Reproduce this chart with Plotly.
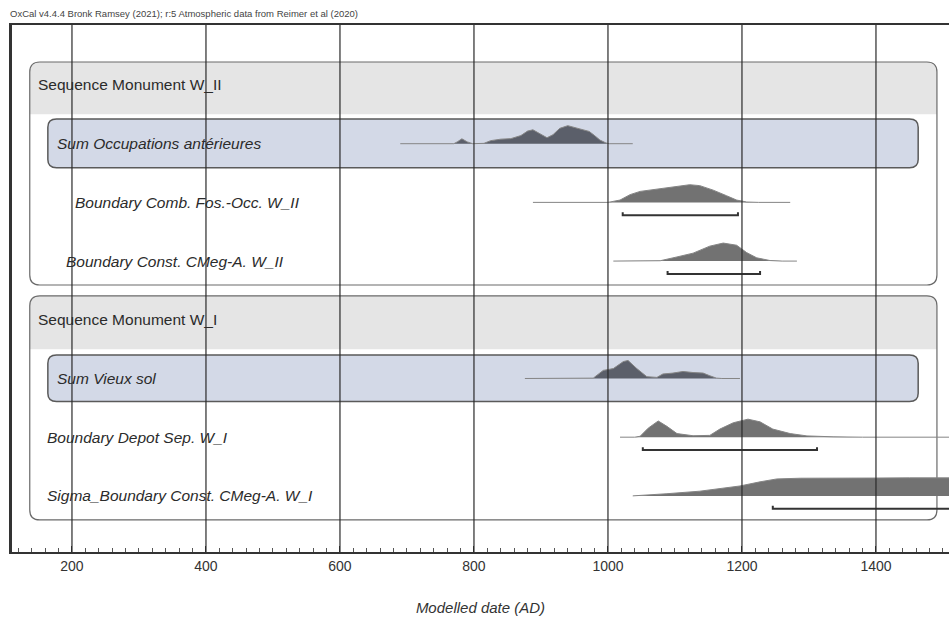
import plotly.graph_objects as go

# ---------------- data ----------------
title_text = "OxCal v4.4.4 Bronk Ramsey (2021); r:5 Atmospheric data from Reimer et al (2020)"
axis_title = "Modelled date (AD)"
tick_values = [200, 400, 600, 800, 1000, 1200, 1400]
tick_labels = ["200", "400", "600", "800", "1000", "1200", "1400"]

row_labels = [
    "Sequence Monument W_II",
    "Sum Occupations antérieures",
    "Boundary Comb. Fos.-Occ. W_II",
    "Boundary Const. CMeg-A. W_II",
    "Sequence Monument W_I",
    "Sum Vieux sol",
    "Boundary Depot Sep. W_I",
    "Sigma_Boundary Const. CMeg-A. W_I",
]

# Sum Occupations antérieures (row 1)
occ_dates = [690, 770, 775, 782, 790, 798, 815, 825, 840, 855, 870, 880, 888, 897, 909,
             918, 928, 940, 950, 958, 966, 972, 980, 988, 997, 1002, 1037]
occ_prob = [0, 0, 0.1, 0.27, 0.1, 0, 0.02, 0.17, 0.25, 0.28, 0.45, 0.7, 0.77, 0.6, 0.33,
            0.5, 0.85, 1.0, 0.9, 0.8, 0.75, 0.68, 0.45, 0.2, 0.04, 0, 0]

# Boundary Comb. Fos.-Occ. W_II (row 2)
comb_dates = [888, 1000, 1018, 1033, 1048, 1067, 1093, 1122, 1137, 1157, 1177, 1192, 1207, 1225, 1272]
comb_prob = [0, 0, 0.13, 0.43, 0.61, 0.7, 0.83, 0.98, 0.93, 0.68, 0.37, 0.13, 0.02, 0, 0]
comb_range = [1022, 1194]

# Boundary Const. CMeg-A. W_II (row 3)
const2_dates = [1008, 1060, 1078, 1103, 1127, 1152, 1172, 1192, 1207, 1222, 1242, 1260, 1282]
const2_prob = [0, 0, 0.02, 0.23, 0.44, 0.83, 1.0, 0.88, 0.47, 0.18, 0.03, 0, 0]
const2_range = [1089, 1227]

# Sum Vieux sol (row 5)
vieux_dates = [876, 970, 978, 993, 1008, 1023, 1030, 1043, 1058, 1073, 1082, 1097, 1112,
               1127, 1142, 1152, 1162, 1170, 1197]
vieux_prob = [0, 0, 0.02, 0.45, 0.55, 0.94, 1.0, 0.55, 0.1, 0.06, 0.25, 0.3, 0.39,
              0.33, 0.3, 0.15, 0.02, 0, 0]

# Boundary Depot Sep. W_I (row 6)
depot_dates = [1018, 1040, 1048, 1060, 1075, 1088, 1103, 1127, 1152, 1167, 1187, 1209, 1227,
               1246, 1272, 1297, 1336, 1380, 1560]
depot_prob = [0, 0, 0.05, 0.5, 0.9, 0.6, 0.2, 0.08, 0.1, 0.45, 0.8, 1.0, 0.85,
              0.45, 0.2, 0.07, 0.02, 0, 0]
depot_range = [1052, 1312]

# Sigma_Boundary Const. CMeg-A. W_I (row 7) - continues past the right edge
sigma_dates = [1037, 1060, 1088, 1137, 1197, 1227, 1252, 1287, 1336, 1400, 1450, 1560, 1600]
sigma_prob = [0, 0.04, 0.12, 0.26, 0.55, 0.78, 0.94, 0.98, 1.0, 0.99, 1.0, 1.0, 0]
sigma_range = [1246, 1600]

# ---------------- layout constants ----------------
X_MIN, X_MAX = 110.5, 1509
Y_TOP, Y_BOT = -1.022, 7.956
PEAK = 0.307          # height (row units) of a normalised peak
BAR_OFF = 0.22        # offset of the range bar below the baseline
FONT = "Liberation Sans, Arial, Helvetica, sans-serif"

BOUND_FILL = "#727272"
SUM_FILL = "#5b5f6a"
BASE_LINE = "#858585"

fig = go.Figure()


def add_dist(dates, prob, row, fill):
    fig.add_trace(go.Scatter(
        x=dates, y=[row - PEAK * p for p in prob], mode="lines",
        fill="toself", fillcolor=fill,
        line=dict(color=BASE_LINE, width=1), hoverinfo="skip", showlegend=False))


def add_range(rng, row):
    yb = row + BAR_OFF
    fig.add_trace(go.Scatter(
        x=[rng[0], rng[0], rng[1], rng[1]], y=[yb - 0.05, yb, yb, yb - 0.05],
        mode="lines", line=dict(color="#333333", width=2),
        hoverinfo="skip", showlegend=False))


add_dist(occ_dates, occ_prob, 1, SUM_FILL)
add_dist(comb_dates, comb_prob, 2, BOUND_FILL)
add_range(comb_range, 2)
add_dist(const2_dates, const2_prob, 3, BOUND_FILL)
add_range(const2_range, 3)
add_dist(vieux_dates, vieux_prob, 5, SUM_FILL)
add_dist(depot_dates, depot_prob, 6, BOUND_FILL)
add_range(depot_range, 6)
add_dist(sigma_dates, sigma_prob, 7, BOUND_FILL)
add_range(sigma_range, 7)


def rrect(x0, x1, y0, y1, rx, ry):
    return (f"M {x0+rx},{y0} L {x1-rx},{y0} Q {x1},{y0} {x1},{y0+ry} "
            f"L {x1},{y1-ry} Q {x1},{y1} {x1-rx},{y1} L {x0+rx},{y1} "
            f"Q {x0},{y1} {x0},{y1-ry} L {x0},{y0+ry} Q {x0},{y0} {x0+rx},{y0} Z")


def rtop(x0, x1, y0, yh, rx, ry):
    return (f"M {x0},{yh} L {x0},{y0+ry} Q {x0},{y0} {x0+rx},{y0} "
            f"L {x1-rx},{y0} Q {x1},{y0} {x1},{y0+ry} L {x1},{yh} Z")


shapes = []
# sequence boxes
for (y0, yh, y1) in [(-0.392, 0.50, 3.407), (3.594, 4.50, 7.41)]:
    shapes.append(dict(type="path", path=rrect(137, 1491, y0, y1, 15, 0.17),
                       fillcolor="white", line=dict(width=0), layer="below"))
    shapes.append(dict(type="path", path=rtop(137, 1491, y0, yh, 15, 0.17),
                       fillcolor="#e5e5e5", line=dict(width=0), layer="below"))
    shapes.append(dict(type="path", path=rrect(137, 1491, y0, y1, 15, 0.17),
                       fillcolor="rgba(0,0,0,0)", line=dict(color="#6a6a6a", width=1.2),
                       layer="below"))
# sum boxes
for (y0, y1) in [(0.58, 1.41), (4.60, 5.39)]:
    shapes.append(dict(type="path", path=rrect(164, 1463, y0, y1, 13, 0.14),
                       fillcolor="#d3d9e7", line=dict(color="#5a5a5a", width=1.5),
                       layer="below"))
# vertical grid lines over everything
for v in tick_values:
    shapes.append(dict(type="line", xref="x", yref="paper", x0=v, x1=v, y0=0, y1=1,
                       line=dict(color="#2a2a2a", width=1.2), layer="above"))

annotations = []
label_x = [146, 175, 201, 188, 146, 175, 160, 160]
for i, (lab, lx) in enumerate(zip(row_labels, label_x)):
    is_seq = lab.startswith("Sequence")
    annotations.append(dict(
        x=lx, y=i, xref="x", yref="y", text=lab if is_seq else f"<i>{lab}</i>",
        showarrow=False, xanchor="left", yanchor="middle",
        font=dict(family=FONT, size=15.5, color="#2b2b2b")))

fig.update_layout(
    width=949, height=621,
    margin=dict(l=12, r=0, t=25, b=69),
    paper_bgcolor="white", plot_bgcolor="white",
    title=dict(text=title_text, x=10 / 949, xanchor="left", y=1 - 14 / 621, yanchor="middle",
               font=dict(family=FONT, size=9.5, color="#444")),
    xaxis=dict(range=[X_MIN, X_MAX], tickvals=tick_values, ticktext=tick_labels,
               showgrid=False, zeroline=False, showline=True, linecolor="#333",
               linewidth=2, mirror=True, ticks="inside", ticklen=6, tickcolor="#333",
               tickfont=dict(family=FONT, size=14, color="#333"),
               minor=dict(dtick=20, tick0=0, ticks="inside", ticklen=4,
                          tickcolor="#555", showgrid=False),
               title=dict(text=f"<i>{axis_title}</i>", standoff=30,
                          font=dict(family=FONT, size=15, color="#333"))),
    yaxis=dict(range=[Y_BOT, Y_TOP], showgrid=False, zeroline=False, showticklabels=False,
               ticks="", showline=True, linecolor="#333", linewidth=3),
    shapes=shapes, annotations=annotations,
)

fig.write_html("out.html", config={"displayModeBar": False},
               post_script="document.body.style.margin='0';")
